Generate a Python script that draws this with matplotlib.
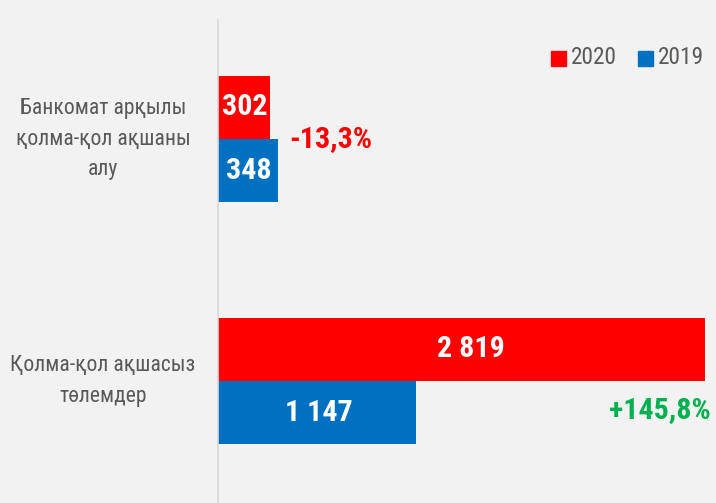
import matplotlib
matplotlib.use("Agg")
import matplotlib.pyplot as plt
from matplotlib.patches import Rectangle
from matplotlib import font_manager

categories = ["Банкомат арқылы\nқолма-қол ақшаны\nалу", "Қолма-қол ақшасыз\nтөлемдер"]
values_2020 = [302, 2819]
values_2019 = [348, 1147]
labels_2020 = ["302", "2 819"]
labels_2019 = ["348", "1 147"]
changes = ["-13,3%", "+145,8%"]
series_names = ["2020", "2019"]

RED = "#ff0000"
BLUE = "#0070c0"
GREEN = "#00b050"
GRAY = "#595959"
BG = "#f2f2f2"

names = {f.name for f in font_manager.fontManager.ttflist}
condensed = None
for cand in ["Roboto Condensed", "DejaVu Sans Condensed", "Liberation Sans Narrow", "Open Sans Condensed"]:
    if cand in names:
        condensed = cand
        break
FONT = ([condensed] if condensed else []) + ["Roboto", "DejaVu Sans"]
scale = 1.2 if condensed else 1.0

W, H = 716, 503
fig = plt.figure(figsize=(W / 100, H / 100), dpi=100, facecolor=BG)
ax = fig.add_axes([218 / W, 0, (W - 218) / W, 483 / H], facecolor=BG)

ypos = [1, 0]
h = 0.262
ax.barh([y + h / 2 for y in ypos], values_2020, height=h, color=RED)
ax.barh([y - h / 2 for y in ypos], values_2019, height=h, color=BLUE)

ax.set_xlim(0, 2882)
ax.set_ylim(-0.504, 1.492)

for y, v, lab in zip(ypos, values_2020, labels_2020):
    ax.text(v * 0.52, y + h / 2, lab, ha="center", va="center", color="white",
            fontsize=18 * scale, fontweight="bold", family=FONT)
for y, v, lab in zip(ypos, values_2019, labels_2019):
    ax.text(v * 0.51, y - h / 2, lab, ha="center", va="center", color="white",
            fontsize=18 * scale, fontweight="bold", family=FONT)

# change labels
ax.text(values_2019[0] + 65, ypos[0] + 0.0, changes[0], ha="left", va="center",
        color=RED, fontsize=18 * scale, fontweight="bold", family=FONT)
ax.text(2850, ypos[1] - h / 2 + 0.01, changes[1], ha="right", va="center",
        color=GREEN, fontsize=18 * scale, fontweight="bold", family=FONT)

# category labels
for y, c in zip(ypos, categories):
    ax.text(-115 / 0.1728, y, c, ha="center", va="center", color=GRAY,
            fontsize=13 * scale, family=FONT, linespacing=1.62)

for s in ["top", "right", "bottom"]:
    ax.spines[s].set_visible(False)
ax.spines["left"].set_color("#d9d9d9")
ax.spines["left"].set_linewidth(1.2)
ax.set_xticks([])
ax.set_yticks([])

# legend
sq = 15
for x0, col, name in [(551, RED, series_names[0]), (638, BLUE, series_names[1])]:
    fig.patches.append(Rectangle((x0 / W, (H - 66) / H), sq / W, sq / H,
                                 transform=fig.transFigure, color=col))
    fig.text((x0 + sq + 5) / W, (H - 58) / H, name, ha="left", va="center",
             color=GRAY, fontsize=14 * scale, family=FONT)

fig.savefig("out.png", dpi=100, facecolor=BG)
